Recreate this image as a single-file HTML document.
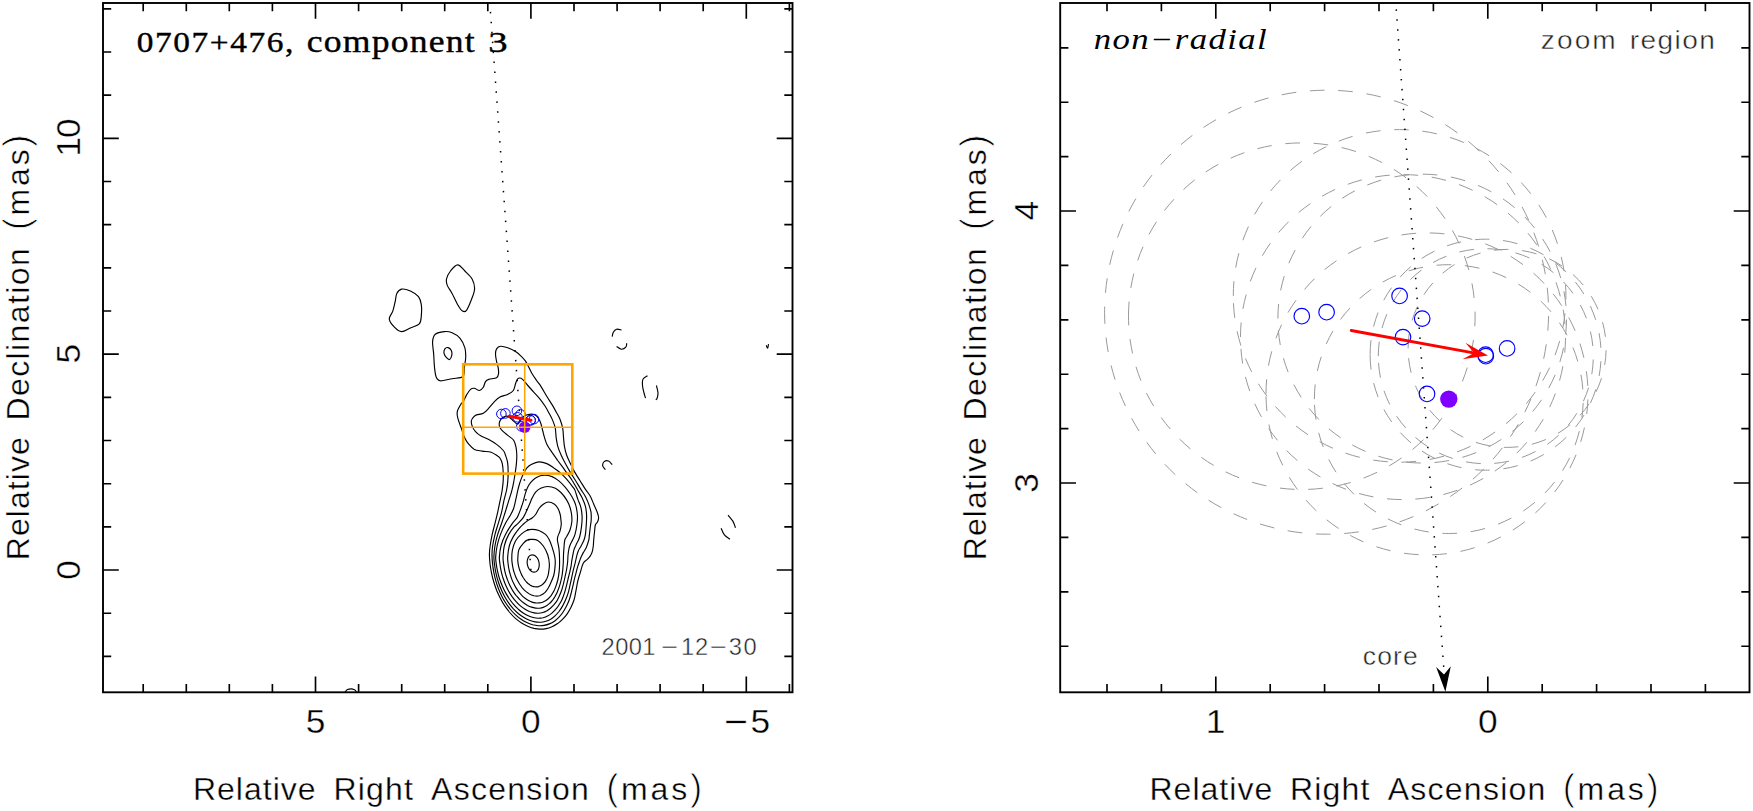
<!DOCTYPE html>
<html lang="en"><head><meta charset="utf-8"><title>0707+476, component 3</title>
<style>html,body{margin:0;padding:0;background:#fff;overflow:hidden}svg{display:block}.s{font-family:"Liberation Sans",sans-serif;fill:#111}.r{font-family:"Liberation Serif",serif;fill:#000}</style></head><body>
<svg width="1753" height="811" viewBox="0 0 1753 811">
<rect width="1753" height="811" fill="#fff"/>
<clipPath id="cl"><rect x="103.0" y="3.0" width="689.5" height="689.3"/></clipPath>
<clipPath id="cr"><rect x="1060.2" y="3.0" width="689.3" height="689.3"/></clipPath>
<g clip-path="url(#cl)">
<path d="M489.4 554.4C489.4 551.4 489.7 548.8 490.2 545.5C490.7 542.2 491.4 538.1 492.2 534.4C493.0 530.7 494.1 527.0 495.0 523.3C495.9 519.6 496.9 515.9 497.7 512.2C498.5 508.5 499.2 504.8 500.0 501.1C500.8 497.4 501.7 493.4 502.2 490.0C502.7 486.6 503.0 483.8 503.2 480.9C503.4 477.9 503.3 475.2 503.2 472.3C503.1 469.4 502.8 465.9 502.3 463.6C501.8 461.3 501.0 459.8 500.2 458.5C499.4 457.2 499.2 457.2 497.7 456.1C496.2 455.1 493.7 453.0 491.1 452.2C488.5 451.4 485.0 451.6 482.2 451.1C479.4 450.6 476.6 450.5 474.4 449.4C472.2 448.3 470.6 446.4 468.9 444.4C467.2 442.4 465.6 439.7 464.4 437.2C463.2 434.7 462.6 432.0 461.7 429.4C460.8 426.8 459.6 424.1 458.9 421.7C458.1 419.3 457.4 416.9 457.2 415.0C457.0 413.1 457.0 412.4 457.6 410.5C458.2 408.6 460.2 405.3 461.1 403.8C462.1 402.3 462.4 403.1 463.3 401.6C464.2 400.1 465.4 396.9 466.6 394.9C467.8 392.9 469.2 390.5 470.5 389.4C471.8 388.3 472.9 388.1 474.4 388.3C475.9 388.5 477.9 390.7 479.4 390.5C480.9 390.3 482.3 388.7 483.3 387.2C484.3 385.7 484.6 382.9 485.5 381.6C486.4 380.3 486.9 380.0 488.8 379.4C490.7 378.8 495.0 378.6 496.6 377.7C498.2 376.8 498.2 375.4 498.5 373.8C498.8 372.2 498.6 370.3 498.3 368.3C498.0 366.3 497.1 364.0 496.6 361.6C496.1 359.2 495.5 356.0 495.5 353.9C495.5 351.8 495.8 350.2 496.6 348.9C497.4 347.6 498.6 346.5 500.5 346.3C502.4 346.1 505.2 346.9 507.7 347.8C510.2 348.7 513.3 350.2 515.5 351.6C517.7 353.0 519.3 354.5 521.0 356.1C522.7 357.7 524.2 359.2 525.5 361.1C526.8 363.0 527.7 365.1 528.8 367.2C529.9 369.3 530.8 371.6 532.1 373.8C533.4 376.0 535.3 378.6 536.6 380.5C537.9 382.4 538.3 382.3 540.0 384.9C541.7 387.5 544.6 392.7 546.6 396.0C548.6 399.3 550.5 402.1 552.2 404.9C553.9 407.7 555.3 410.3 556.6 412.7C557.9 415.1 559.0 416.7 560.0 419.3C561.0 421.9 562.1 425.3 562.7 428.3C563.3 431.3 563.2 434.2 563.5 437.2C563.8 440.2 563.9 443.1 564.4 446.1C564.9 449.1 565.6 452.1 566.6 455.0C567.6 457.9 569.2 461.0 570.5 463.8C571.8 466.6 572.8 468.8 574.4 471.6C576.0 474.4 578.0 477.5 579.9 480.5C581.8 483.5 583.8 486.9 585.5 489.4C587.2 491.9 588.5 493.1 589.9 495.5C591.3 497.9 592.5 501.2 593.7 504.1C595.0 507.0 596.6 510.5 597.4 512.7C598.2 514.9 598.6 516.0 598.6 517.5C598.6 519.0 598.1 520.6 597.6 521.8C597.1 523.0 595.9 523.3 595.4 524.8C594.9 526.3 594.9 528.5 594.6 531.0C594.3 533.5 593.9 537.5 593.7 540.0C593.5 542.5 593.5 543.9 593.3 545.9C593.0 547.9 592.8 550.1 592.2 551.8C591.7 553.5 590.9 555.0 590.0 556.3C589.1 557.6 588.0 558.6 587.0 559.6C586.0 560.6 584.8 561.2 584.0 562.2C583.2 563.2 582.8 564.4 582.2 565.9C581.7 567.4 581.2 569.2 580.7 571.1C580.2 573.0 579.5 575.0 578.9 577.0C578.3 579.0 577.8 580.9 577.4 582.9C577.0 584.9 576.7 586.9 576.3 588.9C575.9 590.9 575.6 592.9 575.2 594.8C574.8 596.6 574.7 597.9 574.0 600.0C573.3 602.1 572.1 605.0 571.0 607.3C569.9 609.6 568.6 611.8 567.2 613.8C565.8 615.8 564.3 617.6 562.7 619.2C561.1 620.9 559.4 622.3 557.6 623.6C555.8 624.8 554.0 625.9 552.0 626.7C550.1 627.5 548.2 628.2 546.2 628.6C544.2 629.0 542.1 629.2 540.1 629.1C538.0 629.1 535.9 628.8 533.9 628.4C531.8 627.9 529.7 627.2 527.7 626.3C525.6 625.4 523.6 624.3 521.6 623.0C519.6 621.7 517.6 620.2 515.7 618.6C513.8 616.9 511.9 615.0 510.2 613.0C508.4 610.9 506.7 608.7 505.1 606.4C503.5 604.0 502.0 601.5 500.7 598.9C499.3 596.3 498.0 593.6 496.8 590.8C495.7 587.9 494.7 585.0 493.8 582.0C492.9 579.1 492.1 576.0 491.5 572.9C490.9 569.9 490.4 566.8 490.0 563.7C489.7 560.6 489.4 557.4 489.4 554.4ZM492.0 554.4C492.0 551.5 492.2 548.8 492.7 545.5C493.2 542.2 494.1 538.1 495.0 534.4C495.9 530.7 497.2 527.0 498.3 523.3C499.4 519.6 500.7 515.9 501.6 512.2C502.5 508.5 503.0 504.8 503.8 501.1C504.6 497.4 505.9 493.4 506.6 490.0C507.3 486.6 507.6 484.1 507.8 480.9C508.1 477.6 508.2 473.7 508.1 470.5C508.1 467.3 507.9 464.5 507.5 461.9C507.1 459.3 506.1 456.9 505.4 455.0C504.7 453.1 504.8 452.3 503.3 450.5C501.8 448.7 499.0 446.2 496.6 444.4C494.2 442.5 491.4 440.8 488.8 439.4C486.2 438.0 483.3 437.4 481.1 436.1C478.9 434.8 477.0 433.3 475.5 431.6C474.0 429.9 472.9 428.0 472.2 426.1C471.5 424.2 471.1 422.1 471.4 420.5C471.7 418.9 473.0 417.6 473.9 416.7C474.8 415.8 475.0 415.5 476.6 414.9C478.2 414.3 481.3 414.3 483.3 413.2C485.3 412.1 487.0 410.1 488.8 408.2C490.6 406.3 492.5 403.5 494.4 401.6C496.2 399.8 497.7 398.3 499.9 397.1C502.1 395.9 505.5 395.5 507.7 394.4C509.9 393.3 512.0 392.3 513.3 390.5C514.6 388.7 514.8 385.8 515.5 383.8C516.2 381.9 516.8 379.7 517.7 378.8C518.6 377.9 519.9 377.9 521.0 378.3C522.1 378.7 523.3 380.1 524.4 381.3C525.5 382.5 526.3 383.8 527.8 385.5C529.3 387.2 531.4 389.5 533.3 391.6C535.2 393.7 537.4 395.9 539.4 398.3C541.4 400.7 543.3 403.4 545.0 406.0C546.7 408.6 548.1 411.4 549.4 413.8C550.7 416.2 551.7 418.0 552.7 420.4C553.7 422.8 554.7 425.5 555.3 428.3C555.9 431.1 555.7 434.2 556.1 437.2C556.5 440.2 556.9 443.1 557.7 446.1C558.5 449.1 559.8 452.1 561.1 455.0C562.4 457.9 564.0 461.0 565.5 463.8C567.0 466.6 568.2 468.8 569.9 471.6C571.6 474.4 573.6 477.5 575.5 480.5C577.4 483.5 579.3 486.9 581.0 489.6C582.7 492.3 584.2 494.2 585.5 496.7C586.8 499.2 587.9 501.8 588.8 504.4C589.7 507.0 590.6 509.6 591.0 512.2C591.4 514.8 591.3 517.4 591.2 520.0C591.1 522.6 590.5 524.9 590.2 527.7C589.9 530.5 589.4 534.6 589.2 536.6C589.0 538.6 589.3 538.2 588.8 540.0C588.3 541.8 587.2 545.3 586.3 547.4C585.4 549.5 584.2 551.0 583.3 552.6C582.4 554.2 581.8 555.4 581.1 557.0C580.4 558.6 579.8 560.6 579.2 562.2C578.6 563.8 578.2 565.0 577.7 566.6C577.2 568.2 576.8 569.7 576.3 571.8C575.8 573.9 575.0 576.9 574.4 579.2C573.8 581.6 573.4 583.8 572.9 585.9C572.4 588.0 572.1 589.4 571.5 591.8C570.9 594.1 570.1 597.5 569.2 600.0C568.3 602.5 567.3 604.6 566.3 606.6C565.2 608.7 564.1 610.7 562.8 612.5C561.6 614.3 560.2 615.9 558.8 617.4C557.4 618.8 555.9 620.1 554.4 621.2C552.8 622.3 551.1 623.2 549.4 623.9C547.7 624.6 545.9 625.1 544.1 625.4C542.3 625.7 540.3 625.8 538.4 625.7C536.5 625.6 534.5 625.3 532.6 624.8C530.6 624.2 528.7 623.5 526.8 622.6C524.9 621.7 522.9 620.6 521.1 619.3C519.2 618.0 517.4 616.6 515.6 614.9C513.9 613.3 512.1 611.5 510.5 609.5C508.9 607.6 507.3 605.5 505.9 603.3C504.4 601.0 503.0 598.7 501.8 596.2C500.6 593.7 499.4 591.1 498.4 588.5C497.4 585.8 496.5 583.1 495.7 580.3C494.9 577.5 494.3 574.6 493.7 571.8C493.2 568.9 492.8 566.0 492.5 563.1C492.2 560.2 492.0 557.3 492.0 554.4ZM493.9 556.6C494.0 553.4 494.4 549.2 495.0 545.5C495.6 541.8 496.6 538.1 497.7 534.4C498.8 530.7 500.4 527.0 501.6 523.3C502.9 519.6 504.0 515.9 505.2 512.2C506.4 508.5 507.5 504.6 508.6 501.1C509.7 497.6 510.9 494.3 511.7 491.2C512.5 488.1 513.0 485.8 513.6 482.6C514.2 479.5 514.8 475.5 515.3 472.3C515.8 469.1 516.1 466.5 516.4 463.6C516.6 460.7 516.9 457.7 516.8 455.0C516.7 452.3 516.5 449.6 516.0 447.2C515.5 444.8 515.0 442.4 513.8 440.5C512.6 438.6 510.6 437.6 508.8 436.1C507.1 434.6 504.8 433.1 503.3 431.6C501.8 430.2 500.6 428.8 499.9 427.4C499.2 426.0 499.1 424.4 499.3 423.0C499.5 421.6 500.3 419.9 501.2 418.8C502.1 417.7 503.7 417.0 504.8 416.6C505.9 416.2 506.6 415.9 507.8 416.4C509.0 416.9 510.6 418.4 512.2 419.7C513.8 421.0 516.2 424.2 517.6 424.2C519.0 424.2 519.5 421.0 520.6 419.7C521.7 418.4 522.8 417.0 524.0 416.2C525.2 415.4 526.5 414.9 528.0 414.6C529.5 414.3 531.4 414.0 532.9 414.3C534.4 414.6 535.8 415.2 536.9 416.3C538.0 417.4 539.0 419.1 539.8 420.7C540.6 422.3 541.1 424.4 541.6 426.1C542.1 427.8 542.3 429.1 542.8 431.0C543.3 432.9 543.7 434.9 544.4 437.2C545.1 439.5 545.9 442.4 547.2 445.0C548.5 447.6 550.5 450.1 552.2 452.7C554.0 455.3 556.0 458.1 557.7 460.5C559.5 462.9 561.2 465.2 562.7 467.2C564.2 469.2 565.0 470.5 566.6 472.7C568.2 474.9 570.4 477.6 572.2 480.5C574.1 483.4 576.1 487.1 577.7 490.0C579.4 492.9 580.8 495.0 582.1 497.8C583.4 500.6 584.8 503.7 585.5 506.6C586.2 509.6 586.5 512.5 586.6 515.5C586.7 518.5 586.5 521.2 586.3 524.4C586.1 527.5 585.8 531.8 585.4 534.4C585.0 537.0 584.7 538.1 584.0 540.0C583.3 541.9 582.0 544.2 581.1 545.9C580.2 547.6 579.2 548.9 578.5 550.4C577.8 551.9 577.5 552.9 577.0 554.8C576.5 556.6 575.9 559.6 575.5 561.5C575.1 563.4 574.8 564.2 574.4 565.9C574.0 567.6 573.4 569.7 572.9 571.8C572.4 573.9 572.0 576.3 571.5 578.5C571.0 580.7 570.5 583.0 570.0 585.2C569.5 587.4 569.2 589.3 568.5 591.8C567.8 594.3 566.5 597.6 565.5 600.0C564.5 602.4 563.6 604.2 562.5 606.1C561.4 608.1 560.2 609.9 559.0 611.5C557.7 613.1 556.4 614.6 555.0 615.9C553.7 617.1 552.2 618.3 550.7 619.2C549.1 620.1 547.5 620.8 545.9 621.3C544.2 621.8 542.5 622.2 540.7 622.2C538.9 622.3 537.0 622.2 535.1 621.9C533.3 621.6 531.4 621.0 529.5 620.3C527.6 619.6 525.7 618.7 523.9 617.6C522.1 616.5 520.3 615.2 518.5 613.8C516.8 612.3 515.1 610.7 513.4 608.9C511.8 607.1 510.2 605.2 508.8 603.1C507.3 601.1 505.9 598.8 504.6 596.5C503.3 594.2 502.1 591.8 501.1 589.3C500.0 586.8 499.0 584.1 498.2 581.5C497.3 578.8 496.6 576.1 496.0 573.3C495.4 570.6 494.9 567.8 494.6 565.0C494.2 562.2 493.8 559.8 493.9 556.6ZM495.7 556.6C495.9 553.5 496.4 549.2 497.2 545.5C498.0 541.8 499.1 538.1 500.5 534.4C501.9 530.7 503.8 526.5 505.5 523.3C507.2 520.1 509.1 517.5 510.5 515.0C511.9 512.5 512.7 511.0 513.6 508.5C514.5 506.0 515.0 502.8 515.7 499.9C516.4 497.0 517.0 493.9 517.6 491.2C518.2 488.5 518.9 485.8 519.6 483.5C520.3 481.2 521.0 479.3 521.8 477.4C522.6 475.5 523.4 473.9 524.3 472.3C525.1 470.7 525.8 469.2 526.9 467.9C528.0 466.6 529.2 465.5 531.2 464.5C533.2 463.5 536.4 462.0 539.0 461.9C541.6 461.8 544.3 462.6 546.8 463.6C549.2 464.6 551.4 466.3 553.7 467.9C556.0 469.5 558.5 471.2 560.6 473.1C562.8 475.0 564.6 476.9 566.6 479.2C568.6 481.5 571.3 485.0 572.7 486.9C574.1 488.8 574.2 488.4 575.0 490.4C575.8 492.4 576.7 496.0 577.7 498.9C578.7 501.8 580.3 504.9 581.0 507.8C581.7 510.8 582.0 513.5 582.1 516.6C582.2 519.7 581.9 523.5 581.5 526.6C581.1 529.8 580.5 533.3 580.0 535.5C579.5 537.7 579.2 538.4 578.5 540.0C577.8 541.6 576.6 543.6 575.9 545.2C575.1 546.8 574.5 548.0 574.0 549.6C573.5 551.2 573.3 552.9 572.9 554.8C572.5 556.6 572.1 558.9 571.8 560.7C571.5 562.6 571.4 564.2 571.1 565.9C570.8 567.6 570.4 569.2 570.0 571.1C569.6 573.0 569.0 574.8 568.5 577.0C568.0 579.2 567.4 581.9 566.8 584.4C566.2 586.9 565.6 589.2 564.8 591.8C564.0 594.4 562.8 597.8 561.8 600.0C560.8 602.2 559.8 603.6 558.8 605.2C557.7 606.9 556.6 608.4 555.4 609.7C554.2 611.1 552.9 612.3 551.6 613.4C550.3 614.4 548.9 615.3 547.5 616.0C546.1 616.8 544.6 617.3 543.1 617.7C541.6 618.0 540.0 618.2 538.3 618.2C536.7 618.1 535.0 617.9 533.3 617.5C531.6 617.1 529.9 616.5 528.2 615.7C526.5 615.0 524.8 614.1 523.2 613.0C521.5 611.9 519.9 610.6 518.3 609.2C516.8 607.8 515.2 606.3 513.8 604.6C512.3 602.9 510.9 601.1 509.6 599.2C508.3 597.3 507.0 595.2 505.8 593.1C504.6 590.9 503.5 588.7 502.5 586.4C501.5 584.1 500.5 581.7 499.7 579.3C498.9 576.8 498.2 574.3 497.7 571.8C497.1 569.3 496.6 566.8 496.3 564.2C496.0 561.7 495.5 559.7 495.7 556.6ZM499.4 556.6C499.6 553.6 500.1 549.2 501.1 545.5C502.1 541.8 503.6 538.0 505.5 534.4C507.4 530.8 510.2 526.5 512.2 523.6C514.2 520.7 516.0 519.6 517.4 517.1C518.8 514.6 519.9 511.2 520.9 508.5C521.9 505.8 522.8 503.1 523.5 500.7C524.2 498.2 524.5 496.1 525.2 493.8C525.9 491.5 526.8 488.9 527.8 486.9C528.8 484.9 529.8 483.4 531.2 481.8C532.6 480.2 534.2 478.5 536.4 477.4C538.6 476.3 541.6 475.4 544.2 475.3C546.8 475.2 549.5 475.7 552.0 476.6C554.5 477.5 556.8 479.2 558.9 480.9C561.0 482.6 563.0 484.8 564.9 486.9C566.8 489.0 568.5 491.4 570.1 493.8C571.7 496.2 573.4 499.3 574.4 501.6C575.4 503.9 575.9 505.3 576.4 507.8C576.9 510.3 577.4 513.6 577.5 516.6C577.6 519.6 577.2 522.5 576.8 525.5C576.4 528.5 575.7 532.0 575.0 534.4C574.3 536.8 573.4 538.3 572.6 540.0C571.8 541.7 570.9 543.0 570.3 544.5C569.7 546.0 569.3 547.2 568.9 549.0C568.5 550.8 568.2 553.3 568.0 555.5C567.8 557.7 567.9 559.8 567.6 562.2C567.4 564.6 566.9 567.5 566.5 570.0C566.1 572.5 565.5 574.6 565.0 577.0C564.5 579.4 563.9 581.9 563.3 584.4C562.6 586.9 562.1 589.2 561.1 591.8C560.1 594.4 558.5 597.9 557.4 600.0C556.3 602.1 555.3 603.0 554.2 604.4C553.1 605.7 551.9 606.9 550.7 608.0C549.5 609.0 548.3 609.9 547.0 610.7C545.7 611.4 544.3 612.1 542.9 612.5C541.5 612.9 540.1 613.2 538.6 613.2C537.1 613.3 535.6 613.2 534.1 612.9C532.5 612.6 530.9 612.1 529.4 611.5C527.8 610.8 526.2 610.0 524.7 609.0C523.1 608.0 521.6 606.9 520.1 605.6C518.7 604.4 517.2 602.9 515.9 601.4C514.5 599.9 513.2 598.2 511.9 596.4C510.7 594.6 509.5 592.7 508.4 590.7C507.3 588.7 506.3 586.6 505.4 584.5C504.5 582.3 503.7 580.1 502.9 577.8C502.2 575.5 501.6 573.2 501.1 570.8C500.6 568.5 500.2 566.1 499.9 563.7C499.6 561.3 499.2 559.6 499.4 556.6ZM503.1 556.6C503.3 553.7 503.4 549.2 504.4 545.5C505.3 541.8 507.1 537.5 508.8 534.4C510.5 531.2 512.8 528.5 514.4 526.6C516.0 524.7 516.8 524.8 518.3 523.2C519.8 521.6 522.1 519.3 523.5 517.1C524.9 514.9 525.9 512.4 526.9 510.2C527.9 508.0 528.6 506.2 529.5 504.2C530.4 502.2 531.1 500.1 532.1 498.1C533.1 496.1 534.2 493.8 535.6 492.1C537.0 490.5 538.7 489.1 540.7 488.2C542.7 487.3 545.2 486.5 547.6 486.5C550.0 486.5 553.1 487.1 555.4 488.2C557.7 489.3 559.5 491.1 561.4 493.0C563.3 494.9 565.2 497.6 566.6 499.9C568.0 502.2 569.0 504.4 569.8 506.8C570.6 509.2 571.3 512.0 571.6 514.5C571.9 517.0 572.1 519.4 571.8 522.0C571.5 524.6 570.8 527.7 570.0 530.0C569.2 532.3 567.9 534.3 567.0 536.0C566.1 537.7 565.3 538.1 564.8 540.0C564.3 541.9 564.2 544.9 564.0 547.4C563.8 549.9 563.6 552.3 563.5 554.8C563.4 557.3 563.4 559.7 563.3 562.2C563.2 564.7 563.0 567.1 562.8 569.6C562.5 572.1 562.3 574.5 561.8 577.0C561.3 579.5 560.7 581.9 560.0 584.4C559.3 586.9 558.2 589.8 557.4 591.8C556.6 593.8 556.0 594.8 555.2 596.2C554.4 597.6 553.5 598.9 552.6 600.1C551.7 601.2 550.8 602.3 549.8 603.2C548.8 604.2 547.7 605.0 546.6 605.7C545.5 606.4 544.4 606.9 543.2 607.4C542.0 607.8 540.8 608.0 539.5 608.2C538.2 608.3 536.9 608.3 535.6 608.1C534.2 607.9 532.9 607.6 531.5 607.1C530.1 606.7 528.8 606.1 527.5 605.4C526.1 604.6 524.8 603.8 523.5 602.8C522.2 601.9 521.0 600.8 519.8 599.6C518.5 598.4 517.4 597.0 516.2 595.6C515.1 594.2 514.0 592.7 513.0 591.1C512.0 589.5 511.1 587.8 510.2 586.0C509.3 584.3 508.5 582.4 507.8 580.6C507.0 578.7 506.4 576.7 505.8 574.8C505.2 572.8 504.7 570.8 504.4 568.8C504.0 566.8 503.7 564.7 503.4 562.7C503.2 560.6 502.9 559.5 503.1 556.6ZM507.7 556.6C507.9 553.8 508.5 548.8 509.4 545.5C510.3 542.2 511.7 539.4 513.3 536.6C514.9 533.8 517.1 530.9 518.8 528.8C520.5 526.7 522.0 525.4 523.5 524.0C525.0 522.6 526.4 521.6 527.8 520.6C529.2 519.6 530.8 519.0 532.1 518.0C533.4 517.0 534.5 516.1 535.6 514.5C536.8 512.9 537.7 510.2 539.0 508.5C540.3 506.8 541.7 505.3 543.3 504.2C544.9 503.1 546.6 502.0 548.5 502.0C550.4 502.0 552.9 503.1 554.5 504.2C556.1 505.3 557.0 506.8 558.0 508.5C559.0 510.2 559.7 512.5 560.2 514.5C560.7 516.5 560.8 518.9 561.0 520.6C561.2 522.4 561.4 523.3 561.2 525.0C561.0 526.7 560.6 529.1 560.0 531.0C559.4 532.9 558.2 535.1 557.8 536.6C557.4 538.1 557.3 538.5 557.4 540.0C557.5 541.5 558.2 544.0 558.5 545.9C558.8 547.8 559.0 548.4 559.2 551.1C559.4 553.8 559.6 558.9 559.6 562.2C559.6 565.5 559.5 568.1 559.2 571.1C558.9 574.1 558.5 577.2 557.8 580.0C557.1 582.8 556.0 586.1 555.2 588.1C554.4 590.1 554.0 590.9 553.3 592.1C552.6 593.4 551.9 594.5 551.1 595.6C550.2 596.7 549.4 597.6 548.5 598.5C547.6 599.3 546.6 600.1 545.6 600.7C544.6 601.3 543.6 601.8 542.5 602.2C541.4 602.6 540.3 602.8 539.2 602.9C538.1 603.0 536.9 603.0 535.7 602.9C534.5 602.7 533.3 602.5 532.1 602.1C530.9 601.7 529.7 601.1 528.6 600.5C527.4 599.9 526.2 599.1 525.1 598.2C524.0 597.4 522.8 596.4 521.8 595.3C520.7 594.2 519.7 593.0 518.7 591.7C517.7 590.5 516.8 589.1 515.9 587.6C515.0 586.2 514.2 584.7 513.5 583.1C512.7 581.5 512.0 579.8 511.4 578.1C510.8 576.4 510.3 574.7 509.8 572.9C509.3 571.2 509.0 569.3 508.6 567.5C508.3 565.7 508.1 563.9 507.9 562.0C507.8 560.2 507.5 559.4 507.7 556.6ZM511.8 558.8C511.8 556.5 511.8 552.9 512.4 549.9C513.0 546.9 514.1 543.6 515.5 541.0C516.9 538.4 519.1 536.1 521.0 534.4C522.9 532.6 524.8 531.3 526.6 530.5C528.5 529.7 530.1 529.4 532.1 529.4C534.1 529.4 536.6 529.7 538.8 530.5C541.0 531.3 543.7 532.8 545.5 534.4C547.3 536.0 548.3 537.7 549.4 539.9C550.5 542.1 551.3 544.5 552.2 547.4C553.1 550.2 554.3 554.2 554.8 557.0C555.3 559.8 555.4 561.3 555.2 564.4C555.0 567.5 554.6 572.2 553.7 575.5C552.8 578.8 550.9 582.4 550.0 584.4C549.1 586.4 548.9 586.7 548.4 587.7C547.8 588.7 547.2 589.7 546.5 590.6C545.9 591.4 545.2 592.2 544.5 592.9C543.7 593.6 543.0 594.1 542.2 594.6C541.4 595.1 540.6 595.4 539.7 595.7C538.8 595.9 537.9 596.1 537.0 596.1C536.0 596.1 535.0 596.0 534.0 595.8C533.0 595.5 532.0 595.2 531.0 594.8C530.0 594.3 529.0 593.8 528.1 593.1C527.1 592.5 526.1 591.7 525.2 590.9C524.3 590.1 523.4 589.1 522.5 588.1C521.7 587.1 520.8 586.0 520.0 584.8C519.3 583.7 518.5 582.4 517.8 581.1C517.1 579.8 516.4 578.4 515.8 577.0C515.2 575.6 514.7 574.1 514.2 572.6C513.7 571.2 513.3 569.6 513.0 568.1C512.6 566.5 512.4 565.0 512.2 563.4C512.0 561.9 511.8 561.1 511.8 558.8ZM517.8 558.8C517.9 556.8 517.9 552.5 518.8 549.9C519.7 547.3 521.8 545.0 523.3 543.3C524.8 541.6 526.2 540.5 527.7 539.9C529.2 539.2 530.4 539.3 532.1 539.4C533.8 539.5 535.8 539.4 537.7 540.5C539.6 541.6 541.6 543.6 543.3 546.0C545.0 548.4 546.8 551.9 547.8 555.0C548.8 558.1 549.3 561.4 549.4 564.4C549.5 567.4 548.8 571.3 548.5 573.3C548.2 575.3 548.1 575.2 547.8 576.2C547.6 577.1 547.2 577.9 546.8 578.8C546.4 579.6 546.0 580.3 545.5 581.1C545.1 581.8 544.5 582.4 544.0 583.0C543.4 583.6 542.9 584.1 542.3 584.6C541.7 585.1 541.0 585.5 540.4 585.8C539.8 586.1 539.1 586.4 538.5 586.6C537.8 586.8 537.2 586.9 536.5 586.9C535.8 586.9 535.2 586.9 534.5 586.8C533.8 586.7 533.1 586.5 532.4 586.2C531.7 586.0 531.0 585.6 530.3 585.2C529.7 584.8 529.0 584.3 528.3 583.8C527.7 583.2 527.1 582.6 526.4 582.0C525.8 581.3 525.2 580.6 524.7 579.8C524.1 579.0 523.6 578.2 523.0 577.3C522.5 576.4 522.0 575.5 521.5 574.6C521.1 573.6 520.6 572.6 520.3 571.6C519.9 570.6 519.5 569.5 519.2 568.5C518.9 567.4 518.6 566.3 518.4 565.3C518.2 564.2 518.0 563.1 517.9 562.0C517.8 560.9 517.7 560.8 517.8 558.8ZM539.0 562.4C539.2 563.3 539.3 564.4 539.2 565.4C539.2 566.3 539.0 567.3 538.7 568.1C538.5 569.0 538.0 569.8 537.6 570.4C537.1 571.0 536.5 571.4 535.9 571.7C535.2 572.0 534.5 572.2 533.8 572.1C533.1 572.1 532.4 571.9 531.7 571.5C531.1 571.1 530.4 570.5 529.8 569.9C529.2 569.2 528.7 568.4 528.3 567.5C527.9 566.6 527.6 565.6 527.4 564.6C527.2 563.7 527.1 562.6 527.2 561.6C527.2 560.7 527.4 559.7 527.7 558.9C527.9 558.0 528.4 557.2 528.8 556.6C529.3 556.0 529.9 555.6 530.5 555.3C531.2 555.0 531.9 554.8 532.6 554.9C533.3 554.9 534.0 555.1 534.7 555.5C535.3 555.9 536.0 556.5 536.6 557.1C537.2 557.8 537.7 558.6 538.1 559.5C538.5 560.4 538.8 561.4 539.0 562.4ZM401.6 289.1C403.9 288.7 407.6 289.8 410.4 291.1C413.2 292.4 416.7 294.4 418.5 296.7C420.3 299.0 420.8 301.5 421.3 304.7C421.8 307.9 421.6 312.7 421.3 315.9C421.0 319.1 421.1 321.9 419.3 323.9C417.5 325.9 413.3 326.6 410.4 327.9C407.4 329.2 404.3 331.7 401.6 331.6C398.9 331.5 396.4 329.2 394.4 327.1C392.3 325.0 389.6 321.8 389.3 319.1C389.0 316.4 391.8 314.0 392.8 311.1C393.8 308.2 394.5 304.4 395.2 301.5C395.9 298.6 395.7 295.6 396.8 293.5C397.9 291.4 399.3 289.5 401.6 289.1ZM457.7 264.9C460.1 264.9 462.5 268.6 464.9 271.0C467.3 273.4 470.5 276.1 472.1 279.0C473.7 281.9 474.7 285.2 474.6 288.7C474.5 292.2 472.7 296.3 471.3 299.9C469.9 303.5 468.0 308.4 466.5 310.3C465.0 312.2 464.0 312.0 462.5 311.1C461.0 310.2 459.4 307.6 457.7 304.7C456.0 301.8 453.8 296.7 452.1 293.5C450.4 290.3 448.2 287.8 447.3 285.4C446.4 283.0 446.0 281.4 446.5 279.0C447.0 276.6 448.6 273.4 450.5 271.0C452.4 268.6 455.3 264.9 457.7 264.9ZM444.1 331.6C446.9 331.3 449.4 331.6 452.1 332.7C454.8 333.8 458.0 335.8 460.1 338.3C462.2 340.8 464.0 344.7 464.9 347.9C465.8 351.1 465.8 354.4 465.7 357.6C465.6 360.8 464.8 364.1 464.4 367.2C463.9 370.3 465.1 374.6 463.0 376.5C460.9 378.4 455.9 378.0 452.1 378.7C448.3 379.4 442.8 381.1 440.1 380.8C437.4 380.5 437.0 379.1 436.1 376.8C435.2 374.5 434.9 370.9 434.5 367.2C434.1 363.5 434.0 358.7 433.7 354.4C433.4 350.1 432.3 344.9 432.6 341.5C432.9 338.1 433.4 335.9 435.3 334.3C437.2 332.7 441.3 331.9 444.1 331.6ZM448.1 347.6C449.2 347.9 450.7 349.1 451.3 350.4C451.9 351.7 452.1 353.7 451.8 355.2C451.5 356.7 450.6 359.1 449.7 359.5C448.8 359.9 447.4 358.6 446.5 357.6C445.6 356.6 444.4 355.1 444.1 353.6C443.8 352.1 444.2 349.8 444.9 348.8C445.6 347.8 447.0 347.3 448.1 347.6ZM612.2 336.6C612.4 335.9 612.6 333.4 613.3 332.2C614.0 331.0 615.2 329.6 616.6 329.2C618.0 328.8 620.8 329.9 621.6 330.0M616.6 346.4C617.4 346.9 619.9 349.1 621.4 349.2C622.9 349.3 624.9 348.2 625.8 347.2C626.7 346.2 626.6 343.9 626.8 343.3M647.5 375.7C646.7 376.3 643.7 377.5 642.9 379.4C642.1 381.3 642.3 384.0 642.7 387.1C643.1 390.2 645.0 396.4 645.5 398.2M656.4 385.5C656.7 386.7 657.9 390.6 658.0 392.7C658.1 394.8 657.5 397.0 657.1 398.2C656.7 399.4 656.0 399.6 655.8 399.9M612.2 464.7C611.6 464.1 609.8 461.5 608.5 461.0C607.2 460.5 605.2 460.8 604.2 461.6C603.2 462.4 602.5 464.6 602.7 465.9C602.9 467.2 605.0 469.0 605.4 469.6M728.1 515.2C728.9 516.2 731.8 519.3 733.0 521.4C734.2 523.5 735.1 526.7 735.5 527.8M721.1 528.2C721.6 529.3 722.9 533.0 724.4 534.9C725.9 536.8 729.1 538.6 730.0 539.3M766.3 345.2C766.5 345.7 767.2 348.3 767.6 348.1C768.0 347.9 768.4 344.8 768.5 344.1M345.0 692.0C345.4 691.6 346.5 690.1 347.5 689.6C348.5 689.1 349.8 688.8 351.0 688.8C352.2 688.8 353.6 689.3 354.5 689.8C355.4 690.3 356.2 691.6 356.5 692.0" fill="none" stroke="#000" stroke-width="1.15" stroke-linejoin="round"/>
<line x1="489.8" y1="3" x2="530.9" y2="570" stroke="#000" stroke-width="1.5" stroke-dasharray="1.5 8.47" stroke-dashoffset="1.1" stroke-linecap="butt"/>
<circle cx="501.4" cy="414" r="4.8" fill="none" stroke="#0000ff" stroke-width="1"/>
<circle cx="505.4" cy="413.4" r="4.8" fill="none" stroke="#0000ff" stroke-width="1"/>
<circle cx="516.9" cy="410.8" r="4.8" fill="none" stroke="#0000ff" stroke-width="1"/>
<circle cx="520.5" cy="414.4" r="4.8" fill="none" stroke="#0000ff" stroke-width="1"/>
<circle cx="517.5" cy="417.3" r="4.8" fill="none" stroke="#0000ff" stroke-width="1"/>
<circle cx="530.6" cy="420.1" r="4.8" fill="none" stroke="#0000ff" stroke-width="1"/>
<circle cx="530.6" cy="420.4" r="4.8" fill="none" stroke="#0000ff" stroke-width="1"/>
<circle cx="534" cy="419.1" r="4.8" fill="none" stroke="#0000ff" stroke-width="1"/>
<circle cx="521.3" cy="426.3" r="4.8" fill="none" stroke="#0000ff" stroke-width="1"/>
<line x1="509.3" y1="416.3" x2="530.9" y2="420.2" stroke="#ff0000" stroke-width="3.2" stroke-linecap="round"/>
<circle cx="524.7" cy="427.2" r="5.8" fill="#7f00ff"/>
<rect x="463.2" y="364.3" width="109.1" height="109.3" fill="none" stroke="#ffa500" stroke-width="2.6"/>
<path d="M524.7 364.3V473.6M463.2 427.2H572.3" stroke="#ffa500" stroke-width="1.5" fill="none"/>
</g>
<path d="M315.5 692.3v-15.8M315.5 3v15.8M530.9 692.3v-15.8M530.9 3v15.8M746.3 692.3v-15.8M746.3 3v15.8M789.4 692.3v-8.2M789.4 3v8.2M703.2 692.3v-8.2M703.2 3v8.2M660.1 692.3v-8.2M660.1 3v8.2M617.1 692.3v-8.2M617.1 3v8.2M574 692.3v-8.2M574 3v8.2M487.8 692.3v-8.2M487.8 3v8.2M444.7 692.3v-8.2M444.7 3v8.2M401.7 692.3v-8.2M401.7 3v8.2M358.6 692.3v-8.2M358.6 3v8.2M272.4 692.3v-8.2M272.4 3v8.2M229.3 692.3v-8.2M229.3 3v8.2M186.3 692.3v-8.2M186.3 3v8.2M143.2 692.3v-8.2M143.2 3v8.2M103 138.3h15.8M792.5 138.3h-15.8M103 354.1h15.8M792.5 354.1h-15.8M103 570h15.8M792.5 570h-15.8M103 656.3h8.2M792.5 656.3h-8.2M103 613.2h8.2M792.5 613.2h-8.2M103 526.8h8.2M792.5 526.8h-8.2M103 483.7h8.2M792.5 483.7h-8.2M103 440.5h8.2M792.5 440.5h-8.2M103 397.3h8.2M792.5 397.3h-8.2M103 311h8.2M792.5 311h-8.2M103 267.8h8.2M792.5 267.8h-8.2M103 224.6h8.2M792.5 224.6h-8.2M103 181.5h8.2M792.5 181.5h-8.2M103 95.1h8.2M792.5 95.1h-8.2M103 52h8.2M792.5 52h-8.2M103 8.8h8.2M792.5 8.8h-8.2" stroke="#000" stroke-width="1.65" fill="none"/>
<rect x="103" y="3" width="689.5" height="689.3" fill="none" stroke="#000" stroke-width="1.9"/>
<g clip-path="url(#cr)">
<path d="M1104.6 312.2A222 222 0 1 1 1548.6 312.2A222 222 0 1 1 1104.6 312.2" fill="none" stroke="#999" stroke-width="1" stroke-dasharray="14.7 13.7" stroke-dashoffset="9"/>
<path d="M1128.5 316.2A173.3 173.3 0 1 1 1475.1 316.2A173.3 173.3 0 1 1 1128.5 316.2" fill="none" stroke="#999" stroke-width="1" stroke-dasharray="14.7 13.7"/>
<path d="M1233.3 295.9A166.3 166.3 0 1 1 1565.9 295.9A166.3 166.3 0 1 1 1233.3 295.9" fill="none" stroke="#999" stroke-width="1" stroke-dasharray="14.7 13.7"/>
<path d="M1240.5 337.1A162.5 162.5 0 1 1 1565.5 337.1A162.5 162.5 0 1 1 1240.5 337.1" fill="none" stroke="#999" stroke-width="1" stroke-dasharray="14.7 13.7"/>
<path d="M1266 393.9A161 161 0 1 1 1588 393.9A161 161 0 1 1 1266 393.9" fill="none" stroke="#999" stroke-width="1" stroke-dasharray="14.7 13.7"/>
<path d="M1277.9 318.6A144.3 144.3 0 1 1 1566.5 318.6A144.3 144.3 0 1 1 1277.9 318.6" fill="none" stroke="#999" stroke-width="1" stroke-dasharray="14.7 13.7"/>
<path d="M1314.4 399.1A134.4 134.4 0 1 1 1583.2 399.1A134.4 134.4 0 1 1 1314.4 399.1" fill="none" stroke="#999" stroke-width="1" stroke-dasharray="14.7 13.7"/>
<path d="M1370.1 354.7A115.5 115.5 0 1 1 1601.1 354.7A115.5 115.5 0 1 1 1370.1 354.7" fill="none" stroke="#999" stroke-width="1" stroke-dasharray="14.7 13.7"/>
<path d="M1378.3 356.2A107.5 107.5 0 1 1 1593.3 356.2A107.5 107.5 0 1 1 1378.3 356.2" fill="none" stroke="#999" stroke-width="1" stroke-dasharray="14.7 13.7"/>
<path d="M1408.1 348.4A99 99 0 1 1 1606.1 348.4A99 99 0 1 1 1408.1 348.4" fill="none" stroke="#999" stroke-width="1" stroke-dasharray="14.7 13.7"/>
<line x1="1395.8" y1="3" x2="1444.2" y2="674" stroke="#000" stroke-width="1.5" stroke-dasharray="1.5 8.466" stroke-dashoffset="3.6"/>
<path d="M1445.4 691.8L1436.1 666.9L1444 674.4L1450.8 666.2Z" fill="#000"/>
<circle cx="1301.8" cy="316.2" r="7.8" fill="none" stroke="#0000ff" stroke-width="1.15"/>
<circle cx="1326.6" cy="312.2" r="7.8" fill="none" stroke="#0000ff" stroke-width="1.15"/>
<circle cx="1399.6" cy="295.9" r="7.8" fill="none" stroke="#0000ff" stroke-width="1.15"/>
<circle cx="1422.2" cy="318.6" r="7.8" fill="none" stroke="#0000ff" stroke-width="1.15"/>
<circle cx="1403" cy="337.1" r="7.8" fill="none" stroke="#0000ff" stroke-width="1.15"/>
<circle cx="1485.6" cy="354.7" r="7.8" fill="none" stroke="#0000ff" stroke-width="1.15"/>
<circle cx="1485.8" cy="356.2" r="7.8" fill="none" stroke="#0000ff" stroke-width="1.15"/>
<circle cx="1507.1" cy="348.4" r="7.8" fill="none" stroke="#0000ff" stroke-width="1.15"/>
<circle cx="1427" cy="393.9" r="7.8" fill="none" stroke="#0000ff" stroke-width="1.15"/>
<circle cx="1448.8" cy="399.1" r="8.7" fill="#7f00ff"/>
<line x1="1351.2" y1="330.5" x2="1476.2" y2="353.3" stroke="#ff0000" stroke-width="2.8" stroke-linecap="round"/>
<path d="M1488 355.4L1465.4 342.8L1474.2 352.9L1462.4 359.2Z" fill="#ff0000"/>
</g>
<path d="M1215.8 692.3v-15.8M1215.8 3v15.8M1487.8 692.3v-15.8M1487.8 3v15.8M1705.4 692.3v-8.2M1705.4 3v8.2M1651 692.3v-8.2M1651 3v8.2M1596.6 692.3v-8.2M1596.6 3v8.2M1542.2 692.3v-8.2M1542.2 3v8.2M1433.4 692.3v-8.2M1433.4 3v8.2M1379 692.3v-8.2M1379 3v8.2M1324.6 692.3v-8.2M1324.6 3v8.2M1270.2 692.3v-8.2M1270.2 3v8.2M1161.4 692.3v-8.2M1161.4 3v8.2M1107 692.3v-8.2M1107 3v8.2M1060.2 211h15.8M1749.5 211h-15.8M1060.2 483h15.8M1749.5 483h-15.8M1060.2 646.2h8.2M1749.5 646.2h-8.2M1060.2 591.8h8.2M1749.5 591.8h-8.2M1060.2 537.4h8.2M1749.5 537.4h-8.2M1060.2 428.6h8.2M1749.5 428.6h-8.2M1060.2 374.2h8.2M1749.5 374.2h-8.2M1060.2 319.8h8.2M1749.5 319.8h-8.2M1060.2 265.4h8.2M1749.5 265.4h-8.2M1060.2 156.6h8.2M1749.5 156.6h-8.2M1060.2 102.2h8.2M1749.5 102.2h-8.2M1060.2 47.8h8.2M1749.5 47.8h-8.2" stroke="#000" stroke-width="1.65" fill="none"/>
<rect x="1060.2" y="3" width="689.3" height="689.3" fill="none" stroke="#000" stroke-width="1.9"/>
<text class="s" y="800.1" font-size="32" style="fill:#000" stroke="#fff" stroke-width="0.35"><tspan x="192.88" letter-spacing="1.020">Relative</tspan> <tspan x="333.48" letter-spacing="1.164">Right</tspan> <tspan x="431.04" letter-spacing="1.263">Ascension</tspan> <tspan x="606.24" letter-spacing="0.000" font-size="36.5" stroke="#fff" stroke-width="0.9">(</tspan><tspan x="620.98" letter-spacing="2.914">mas</tspan><tspan x="689.99" letter-spacing="0.000" font-size="36.5" stroke="#fff" stroke-width="0.9">)</tspan></text>
<text class="s" y="800.1" font-size="32" style="fill:#000" stroke="#fff" stroke-width="0.35"><tspan x="1149.47" letter-spacing="1.020">Relative</tspan> <tspan x="1290.08" letter-spacing="1.164">Right</tspan> <tspan x="1387.64" letter-spacing="1.263">Ascension</tspan> <tspan x="1562.84" letter-spacing="0.000" font-size="36.5" stroke="#fff" stroke-width="0.9">(</tspan><tspan x="1577.58" letter-spacing="2.914">mas</tspan><tspan x="1646.59" letter-spacing="0.000" font-size="36.5" stroke="#fff" stroke-width="0.9">)</tspan></text>
<text class="s" y="29.3" font-size="32" style="fill:#000" transform="rotate(-90)" stroke="#fff" stroke-width="0.35"><tspan x="-560.23" letter-spacing="1.062">Relative</tspan> <tspan x="-420.52" letter-spacing="1.389">Declination</tspan> <tspan x="-229.96" letter-spacing="0.000" font-size="36.5" stroke="#fff" stroke-width="0.9">(</tspan><tspan x="-215.53" letter-spacing="2.914">mas</tspan><tspan x="-146.81" letter-spacing="0.000" font-size="36.5" stroke="#fff" stroke-width="0.9">)</tspan></text>
<text class="s" y="985.9" font-size="32" style="fill:#000" transform="rotate(-90)" stroke="#fff" stroke-width="0.35"><tspan x="-560.23" letter-spacing="1.062">Relative</tspan> <tspan x="-420.52" letter-spacing="1.389">Declination</tspan> <tspan x="-229.96" letter-spacing="0.000" font-size="36.5" stroke="#fff" stroke-width="0.9">(</tspan><tspan x="-215.53" letter-spacing="2.914">mas</tspan><tspan x="-146.81" letter-spacing="0.000" font-size="36.5" stroke="#fff" stroke-width="0.9">)</tspan></text>
<text class="s" y="733.4" font-size="33" style="fill:#000" transform="scale(1.07,1)" stroke="#fff" stroke-width="0.35"><tspan x="285.81" letter-spacing="0.000">5</tspan></text>
<text class="s" y="733.4" font-size="33" style="fill:#000" transform="scale(1.07,1)" stroke="#fff" stroke-width="0.35"><tspan x="486.99" letter-spacing="0.000">0</tspan></text>
<text class="s" y="733.4" font-size="33" style="fill:#000" transform="scale(1.07,1)" stroke="#fff" stroke-width="0.35"><tspan x="676.51" textLength="22.47" lengthAdjust="spacingAndGlyphs">−</tspan><tspan x="701.30" letter-spacing="0.000">5</tspan></text>
<text class="s" y="79.9" font-size="33" style="fill:#000" transform="rotate(-90) scale(1.07,1)" stroke="#fff" stroke-width="0.35"><tspan x="-146.58" letter-spacing="-0.660">10</tspan></text>
<text class="s" y="79.9" font-size="33" style="fill:#000" transform="rotate(-90) scale(1.07,1)" stroke="#fff" stroke-width="0.35"><tspan x="-339.71" letter-spacing="0.000">5</tspan></text>
<text class="s" y="79.9" font-size="33" style="fill:#000" transform="rotate(-90) scale(1.07,1)" stroke="#fff" stroke-width="0.35"><tspan x="-541.89" letter-spacing="0.000">0</tspan></text>
<text class="s" y="733.4" font-size="33" style="fill:#000" transform="scale(1.07,1)" stroke="#fff" stroke-width="0.35"><tspan x="1126.82" letter-spacing="0.000">1</tspan></text>
<text class="s" y="733.4" font-size="33" style="fill:#000" transform="scale(1.07,1)" stroke="#fff" stroke-width="0.35"><tspan x="1381.38" letter-spacing="0.000">0</tspan></text>
<text class="s" y="1038.0" font-size="33" style="fill:#000" transform="rotate(-90) scale(1.07,1)" stroke="#fff" stroke-width="0.35"><tspan x="-206.08" letter-spacing="0.000">4</tspan></text>
<text class="s" y="1038.0" font-size="33" style="fill:#000" transform="rotate(-90) scale(1.07,1)" stroke="#fff" stroke-width="0.35"><tspan x="-460.48" letter-spacing="0.000">3</tspan></text>
<text class="r" y="52.5" font-size="29.8" style="fill:#000" transform="scale(1.12,1)" stroke="#000" stroke-width="0.4"><tspan x="122.08" letter-spacing="1.416">0707+476,</tspan> <tspan x="273.88" letter-spacing="1.095" font-size="31.8">component</tspan> <tspan x="436.02" textLength="17.29" lengthAdjust="spacingAndGlyphs">3</tspan></text>
<text class="s" y="654.8" font-size="23.7" style="fill:#222" stroke="#fff" stroke-width="0.45"><tspan x="601.61" letter-spacing="0.342">2001</tspan><tspan x="660.94" textLength="17.31" lengthAdjust="spacingAndGlyphs">−</tspan><tspan x="681.09" letter-spacing="0.836">12</tspan><tspan x="709.75" textLength="17.19" lengthAdjust="spacingAndGlyphs">−</tspan><tspan x="728.70" letter-spacing="1.667">30</tspan></text>
<text class="r" y="49.4" font-size="28.5" style="fill:#000" font-style="italic" transform="scale(1.22,1)"><tspan x="896.53" letter-spacing="1.127">non−radial</tspan></text>
<text class="s" y="49.5" font-size="26.5" style="fill:#222" transform="scale(1.06,1)" stroke="#fff" stroke-width="0.45"><tspan x="1453.64" letter-spacing="1.950">zoom</tspan> <tspan x="1537.58" letter-spacing="1.303">region</tspan></text>
<text class="s" y="665.3" font-size="25" style="fill:#222" transform="scale(1.06,1)" stroke="#fff" stroke-width="0.45"><tspan x="1285.73" letter-spacing="1.023">core</tspan></text>
</svg></body></html>
